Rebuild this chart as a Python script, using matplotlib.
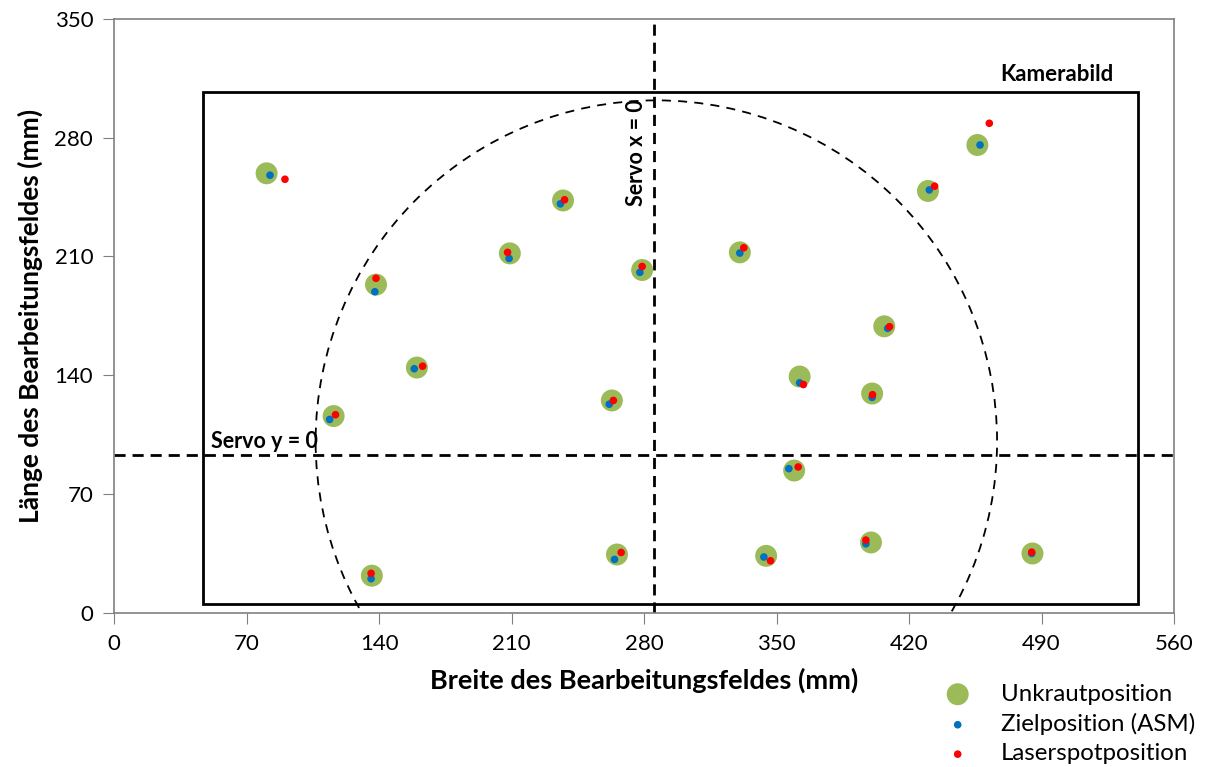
import numpy as np
import matplotlib.pyplot as plt
from matplotlib.patches import Ellipse, Rectangle

plt.rcParams['font.family'] = ['Lato', 'DejaVu Sans']

# Unkrautposition (weed positions)
weed_x = [80.6, 138.4, 160.0, 116.0, 136.2, 209.1, 237.2, 263.0, 279.0, 265.7,
          330.6, 362.2, 359.3, 344.5, 400.5, 406.9, 399.9, 430.0, 456.1, 485.2]
weed_y = [259.0, 193.4, 144.5, 115.9, 21.8, 211.8, 243.0, 125.1, 202.0, 34.3,
          212.4, 139.2, 83.8, 33.5, 129.2, 168.8, 41.4, 248.6, 275.7, 34.9]

# Zielposition (ASM)
target_x = [82.4, 137.8, 158.6, 113.9, 135.8, 208.7, 235.8, 261.6, 277.8, 264.4,
            330.6, 362.2, 356.5, 343.3, 400.5, 408.7, 397.2, 430.7, 457.5, 484.8]
target_y = [257.9, 189.2, 143.8, 113.9, 20.0, 208.8, 241.0, 122.9, 200.6, 31.4,
            212.0, 135.5, 84.9, 32.8, 126.9, 167.6, 40.6, 249.2, 275.7, 34.9]

# Laserspotposition
laser_x = [90.3, 138.4, 163.0, 117.0, 135.8, 207.9, 238.0, 263.8, 279.0, 267.9,
           332.7, 364.2, 361.4, 346.8, 400.7, 409.7, 397.2, 433.5, 462.4, 484.8]
laser_y = [255.5, 197.1, 145.3, 116.7, 23.2, 212.4, 243.4, 125.1, 204.1, 35.5,
           215.1, 134.5, 85.9, 30.6, 128.5, 168.6, 42.8, 251.4, 288.5, 35.7]

# camera frame, servo zero lines, working range
cam_x0, cam_x1, cam_y0, cam_y1 = 47, 541, 5, 307
servo_x0 = 285
servo_y0 = 93
range_cx, range_cy, range_w, range_h = 286.5, 101, 360, 402

fig = plt.figure(figsize=(12.08, 7.67), dpi=100)
ax = fig.add_axes([0.0944, 0.2012, 0.8775, 0.7741])

ax.add_patch(Rectangle((cam_x0, cam_y0), cam_x1 - cam_x0, cam_y1 - cam_y0,
                       fill=False, edgecolor='black', lw=2, zorder=2))
ax.add_patch(Ellipse((range_cx, range_cy), range_w, range_h, fill=False,
                     edgecolor='black', lw=1.3, ls=(0, (5, 4)), zorder=2))
ax.axvline(servo_x0, color='black', lw=2, ls=(0, (4, 2.5)), zorder=2)
ax.axhline(servo_y0, color='black', lw=2, ls=(0, (4, 2.5)), zorder=2)

ax.scatter(weed_x, weed_y, s=250, color='#9BBB59', edgecolors='none', zorder=3,
           label='Unkrautposition')
ax.scatter(target_x, target_y, s=30, color='#0070C0', edgecolors='none', zorder=4,
           label='Zielposition (ASM)')
ax.scatter(laser_x, laser_y, s=30, color='#FF0000', edgecolors='none', zorder=5,
           label='Laserspotposition')

ax.text(528, 311, 'Kamerabild', fontsize=16, fontweight='bold', ha='right', va='bottom')
ax.text(276, 271, 'Servo x = 0', fontsize=15.5, fontweight='bold', rotation=90,
        ha='center', va='center')
ax.text(51, 95, 'Servo y = 0', fontsize=15.5, fontweight='bold', ha='left', va='bottom')

ax.set_xlim(0, 560)
ax.set_ylim(0, 350)
ax.set_xticks(np.arange(0, 561, 70))
ax.set_yticks(np.arange(0, 351, 70))
ax.tick_params(direction='out', length=8, color='#808080', labelsize=16, pad=7)
for s in ax.spines.values():
    s.set_color('#808080')
    s.set_linewidth(1.2)

ax.set_xlabel('Breite des Bearbeitungsfeldes (mm)', fontsize=19.5, fontweight='bold', labelpad=10)
ax.set_ylabel('Länge des Bearbeitungsfeldes (mm)', fontsize=19, fontweight='bold', labelpad=8)

fig.legend(loc='upper left', bbox_to_anchor=(0.755, 0.137), frameon=False,
           fontsize=17.3, handletextpad=0.8, labelspacing=0.35)

plt.savefig('out.png', dpi=100)
